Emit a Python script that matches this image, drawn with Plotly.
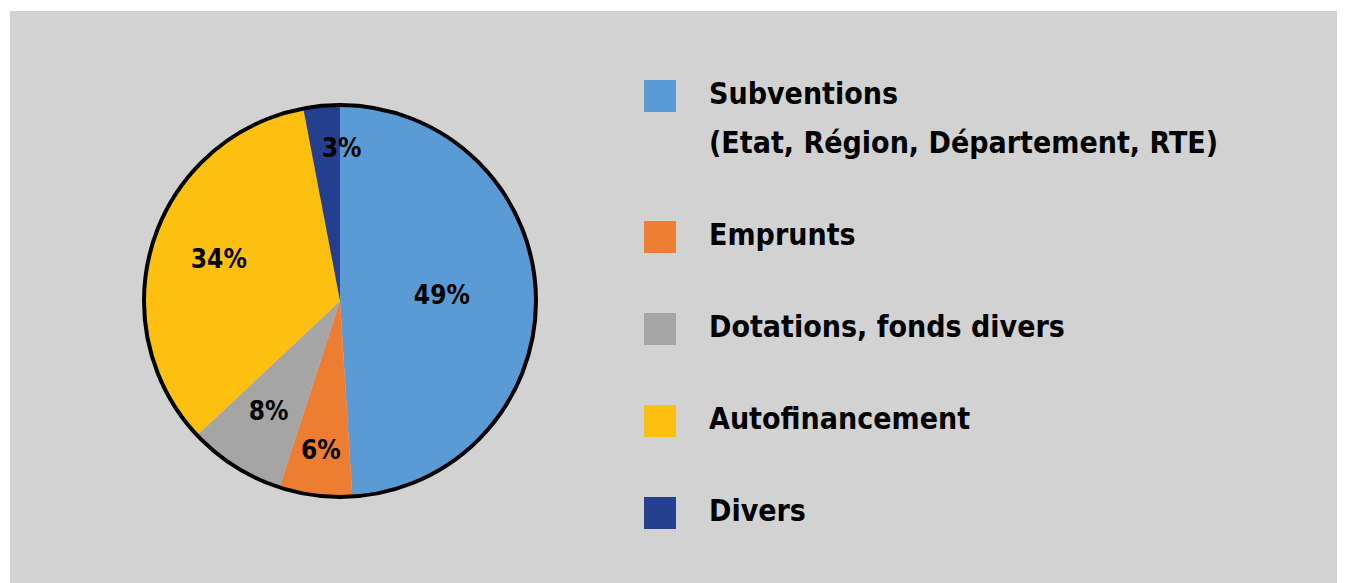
import plotly.graph_objects as go

# ---------------- data ----------------
categories = [
    "Subventions\n(Etat, Région, Département, RTE)",
    "Emprunts",
    "Dotations, fonds divers",
    "Autofinancement",
    "Divers",
]
shares = [49, 6, 8, 34, 3]
colors = ["#5B9BD5", "#ED7D31", "#A5A5A5", "#FEC010", "#253F8F"]

# ---------------- layout constants (figure px; page has an 8px body margin) ----------------
W, H = 1337, 575
FONT = "DejaVu Sans Condensed, DejaVu Sans, sans-serif"
PIE_CX, PIE_CY, PIE_R = 332, 293, 196
label_radius = [0.52, 0.78, 0.68, 0.65, 0.77]
label_theta_shift = [0, 0, 0, 0, 6]
SWATCH_X, TEXT_X = 652, 701
LEG_TOP, LEG_PITCH, LEG_LINE = 88, 92, 49
PANEL_X0, PANEL_Y0 = 2, 3

pie_domain = dict(
    x=[(PIE_CX - PIE_R) / W, (PIE_CX + PIE_R) / W],
    y=[(H - PIE_CY - PIE_R) / H, (H - PIE_CY + PIE_R) / H],
)

fig = go.Figure()

# pie slices drawn as polar wedges (so labels can sit above them)
total = sum(shares)
starts, cum = [], 0
for v in shares:
    starts.append(cum)
    cum += v
mid = [(s + v / 2) / total * 360 for s, v in zip(starts, shares)]
widths = [v / total * 360 for v in shares]

fig.add_trace(go.Barpolar(
    r=[1] * len(shares), theta=mid, width=widths,
    marker=dict(color=colors, line=dict(width=0)),
    text=[c.split("\n")[0] for c in categories],
    hovertemplate="%{text}<extra></extra>", showlegend=False,
))

# percentage labels
fig.add_trace(go.Scatterpolar(
    r=label_radius, theta=[m + s for m, s in zip(mid, label_theta_shift)],
    mode="text",
    text=[f"{v}%" for v in shares],
    textposition="middle center",
    textfont=dict(family=FONT, size=26, color="black", weight="bold"),
    hoverinfo="skip", showlegend=False,
))

# legend drawn as scatter (large square swatches)
sw_y, txt_x, txt_y, txt = [], [], [], []
y = LEG_TOP
for c in categories:
    lines = c.split("\n")
    sw_y.append(y)
    for j, ln in enumerate(lines):
        txt_x.append(TEXT_X)
        txt_y.append(y + j * LEG_LINE)
        txt.append(ln)
    y += LEG_PITCH + LEG_LINE * (len(lines) - 1)

fig.add_trace(go.Scatter(
    x=[SWATCH_X] * len(categories), y=sw_y, mode="markers",
    marker=dict(symbol="square", size=32, color=colors, line=dict(width=0)),
    hoverinfo="skip", showlegend=False,
))
fig.add_trace(go.Scatter(
    x=txt_x, y=txt_y, mode="text", text=txt, textposition="middle right",
    textfont=dict(family=FONT, size=30, color="black", weight="bold"),
    hoverinfo="skip", showlegend=False,
))

fig.update_layout(
    width=W, height=H,
    margin=dict(l=0, r=0, t=0, b=0),
    paper_bgcolor="white",
    plot_bgcolor="#D2D2D2",
    xaxis=dict(domain=[PANEL_X0 / W, 1], range=[PANEL_X0, W], visible=False, fixedrange=True),
    yaxis=dict(domain=[0, (H - PANEL_Y0) / H], range=[H, PANEL_Y0], visible=False, fixedrange=True),
    polar=dict(
        domain=pie_domain,
        bgcolor="rgba(0,0,0,0)",
        hole=0,
        radialaxis=dict(range=[0, 1], visible=False),
        angularaxis=dict(
            rotation=90, direction="clockwise",
            showline=True, linecolor="black", linewidth=4,
            showgrid=False, showticklabels=False, ticks="",
        ),
    ),
    showlegend=False,
)

fig.write_html("out.html")
